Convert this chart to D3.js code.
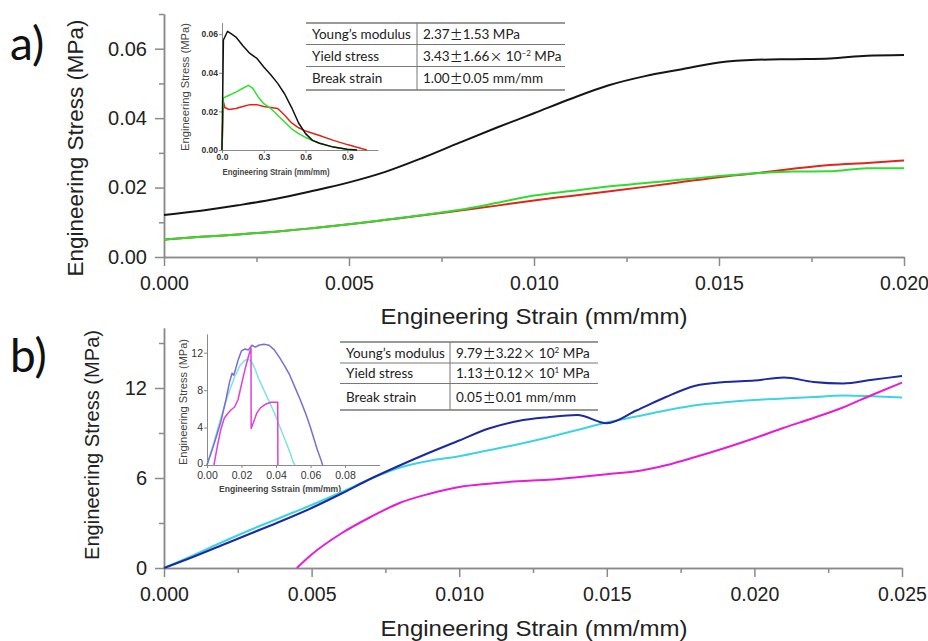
<!DOCTYPE html>
<html>
<head>
<meta charset="utf-8">
<script src="https://cdn.jsdelivr.net/npm/d3@7"></script>
<style>
body { margin: 0; background: #fff; }
.axis path, .axis line { stroke: #8a8a8a; stroke-width: 1.5; }
.axis text { fill: #222; font-family: "Liberation Sans", Arial, sans-serif; }
.inset .domain, .inset .tick line { stroke: #8a8a8a; stroke-width: 1; }
</style>
</head>
<body>
<svg id="chart" width="928" height="641"></svg>
<script>
// panel a, main plot (strain grid shared by the three samples)
const strainA = [0, 0.001, 0.002, 0.003, 0.004, 0.005, 0.006, 0.007, 0.008, 0.009, 0.010,
                 0.011, 0.012, 0.013, 0.014, 0.015, 0.016, 0.017, 0.018, 0.019, 0.020];
const blackA = [0.0121, 0.0133, 0.0149, 0.0167, 0.0190, 0.0215, 0.0246, 0.0286, 0.0330, 0.0373, 0.0414,
                0.0456, 0.0494, 0.0521, 0.0541, 0.0560, 0.0568, 0.0570, 0.0572, 0.0580, 0.0582];
const redA = [0.0050, 0.0058, 0.0065, 0.0073, 0.0083, 0.0094, 0.0107, 0.0120, 0.0134, 0.0148, 0.0163,
              0.0176, 0.0189, 0.0202, 0.0216, 0.0230, 0.0241, 0.0254, 0.0265, 0.0271, 0.0278];
const greenA = [0.0050, 0.0058, 0.0065, 0.0073, 0.0083, 0.0094, 0.0107, 0.0121, 0.0136, 0.0156, 0.0177,
                0.0190, 0.0203, 0.0213, 0.0223, 0.0233, 0.0241, 0.0246, 0.0247, 0.0256, 0.0256];

// panel a, inset (full curves to break)
const insBlackX = [0, 0.01, 0.04, 0.07, 0.10, 0.15, 0.20, 0.25, 0.30, 0.35, 0.40, 0.45, 0.50, 0.55, 0.60, 0.65, 0.70, 0.80, 0.90, 0.97];
const insBlackY = [0, 0.057, 0.0615, 0.060, 0.0585, 0.054, 0.050, 0.0475, 0.043, 0.039, 0.0345, 0.029, 0.022, 0.014, 0.0085, 0.005, 0.0035, 0.0015, 0.0004, 0];
const insGreenX = [0, 0.01, 0.04, 0.10, 0.15, 0.19, 0.22, 0.26, 0.30, 0.35, 0.40, 0.45, 0.50, 0.55, 0.60, 0.70, 0.80, 0.90, 0.93];
const insGreenY = [0, 0.027, 0.028, 0.030, 0.032, 0.0335, 0.032, 0.0275, 0.024, 0.0215, 0.018, 0.0145, 0.011, 0.0085, 0.0065, 0.0035, 0.0015, 0.0003, 0];
const insRedX = [0, 0.01, 0.02, 0.05, 0.10, 0.15, 0.20, 0.25, 0.30, 0.35, 0.40, 0.45, 0.50, 0.55, 0.60, 0.70, 0.80, 0.90, 1.00, 1.04];
const insRedY = [0, 0.025, 0.022, 0.021, 0.0215, 0.0225, 0.0235, 0.0235, 0.0225, 0.022, 0.0215, 0.018, 0.014, 0.0115, 0.0098, 0.0075, 0.005, 0.0028, 0.0008, 0];

// panel b, main plot
const strainB = [0, 0.001, 0.002, 0.003, 0.004, 0.005, 0.006, 0.007, 0.008, 0.009, 0.010, 0.011, 0.012,
                 0.013, 0.014, 0.015, 0.016, 0.017, 0.018, 0.019, 0.020, 0.021, 0.022, 0.023, 0.024, 0.025];
const blueB = [0, 0.75, 1.55, 2.35, 3.15, 4.0, 4.95, 5.95, 6.85, 7.7, 8.5, 9.3, 9.8,
               10.05, 10.2, 9.65, 10.5, 11.4, 12.15, 12.4, 12.5, 12.7, 12.4, 12.3, 12.55, 12.8];
const cyanB = [0, 0.85, 1.75, 2.6, 3.4, 4.2, 5.05, 5.95, 6.7, 7.15, 7.45, 7.85, 8.25,
               8.7, 9.2, 9.7, 10.1, 10.5, 10.85, 11.05, 11.2, 11.3, 11.4, 11.5, 11.45, 11.37];
const strainMagB = [0.0045, 0.005, 0.006, 0.007, 0.008, 0.009, 0.010, 0.011, 0.012, 0.013, 0.014, 0.015,
                    0.016, 0.017, 0.018, 0.019, 0.020, 0.021, 0.022, 0.023, 0.024, 0.025];
const magentaB = [0, 0.9, 2.3, 3.4, 4.35, 4.95, 5.4, 5.62, 5.78, 5.88, 6.05, 6.25,
                  6.45, 6.85, 7.4, 8.0, 8.65, 9.35, 10.0, 10.7, 11.55, 12.36];

// panel b, inset
const insBlueX = [0, 0.004, 0.008, 0.011, 0.013, 0.0145, 0.0155, 0.0165, 0.018, 0.020, 0.022, 0.024, 0.026, 0.028, 0.030,
                  0.033, 0.036, 0.039, 0.042, 0.045, 0.048, 0.051, 0.054, 0.057, 0.060, 0.062, 0.064, 0.066, 0.067];
const insBlueY = [0, 2.2, 4.6, 7.0, 8.8, 9.8, 9.6, 10.2, 11.2, 12.2, 12.4, 12.3, 12.8, 12.6, 12.8,
                  12.9, 12.8, 12.3, 11.5, 10.6, 9.6, 8.3, 7.0, 5.6, 4.0, 2.8, 1.6, 0.6, 0];
const insCyanX = [0, 0.004, 0.008, 0.012, 0.016, 0.019, 0.022, 0.024, 0.026, 0.028, 0.030, 0.033, 0.036, 0.039, 0.042, 0.045, 0.048, 0.050, 0.051];
const insCyanY = [0, 2.4, 5.0, 7.4, 9.4, 10.6, 11.2, 11.3, 11.0, 10.2, 9.2, 8.0, 6.8, 5.6, 4.2, 2.8, 1.4, 0.3, 0];
const insMagX = [0.004, 0.006, 0.008, 0.010, 0.012, 0.014, 0.016, 0.018, 0.020, 0.022, 0.024, 0.0255, 0.0256,
                 0.026, 0.027, 0.029, 0.031, 0.034, 0.037, 0.041, 0.0411];
const insMagY = [0, 2.0, 3.8, 5.0, 5.5, 5.9, 6.2, 7.0, 8.6, 10.2, 11.6, 12.5, 3.9,
                 4.1, 4.6, 5.6, 6.1, 6.5, 6.7, 6.7, 0];

// tables
const tableRows = ["Young’s modulus", "Yield stress", "Break strain"];
const meanA = ["2.37", "3.43", "1.00"], sdA = ["1.53", "1.66", "0.05"], expA = [null, "-2", null], unitA = ["MPa", "MPa", "mm/mm"];
const meanB = ["9.79", "1.13", "0.05"], sdB = ["3.22", "0.12", "0.01"], expB = ["2", "1", null], unitB = [" MPa", "MPa", "mm/mm"];

const svg = d3.select("#chart");

// ---------- tables ----------
function drawTable(left, right, divider, lines, meanArr, sdArr, expArr, unitArr) {
  const t = svg.append("g");
  lines.forEach((y, i) => {
    t.append("line").attr("x1", left).attr("x2", right).attr("y1", y).attr("y2", y)
      .attr("stroke", "#777").attr("stroke-width", (i == 0 || i == lines.length - 1) ? 1.6 : 1);
  });
  t.append("line").attr("x1", divider).attr("x2", divider).attr("y1", lines[0]).attr("y2", lines[3])
    .attr("stroke", "#777").attr("stroke-width", 1);
  tableRows.forEach((label, i) => {
    const yc = (lines[i] + lines[i + 1]) / 2 + 5;
    t.append("text").attr("x", left + 6).attr("y", yc).text(label)
      .attr("font-family", "Lato, sans-serif").attr("font-size", 13.5).attr("fill", "#222");
    const v = t.append("text").attr("x", divider + 6).attr("y", yc)
      .attr("font-family", "Lato, sans-serif").attr("font-size", 13.5).attr("fill", "#222");
    v.append("tspan").text(meanArr[i]);
    v.append("tspan").attr("font-family", "Noto Sans CJK SC").attr("font-size", 13).text("±");
    v.append("tspan").text(sdArr[i]);
    if (expArr[i]) {
      v.append("tspan").attr("font-family", "Noto Sans CJK SC").attr("font-size", 13).text("×");
      v.append("tspan").text(" 10");
      v.append("tspan").attr("dy", -5).attr("font-size", 8).text(expArr[i].replace("-", "−"));
      v.append("tspan").attr("dy", 5).text(" " + unitArr[i]);
    } else {
      v.append("tspan").text(" " + unitArr[i]);
    }
  });
}
drawTable(306, 565, 417, [23, 44.5, 66.5, 90], meanA, sdA, expA, unitA);
drawTable(340, 598, 450, [342, 363, 383.5, 410], meanB, sdB, expB, unitB);

// ---------- insets ----------
function drawInset(x, y, xTicks, yTicks, xFmt, yFmt, tickFont, bold, xLabel, yLabel, lab) {
  const g = svg.append("g").attr("class", "inset");
  g.append("g").attr("transform", "translate(0," + y.range()[0] + ")")
    .call(d3.axisBottom(x).tickValues(xTicks).tickFormat(d3.format(xFmt)).tickSize(3).tickPadding(lab.pad).tickSizeOuter(0));
  g.append("g").attr("transform", "translate(" + x.range()[0] + ",0)")
    .call(d3.axisLeft(y).tickValues(yTicks).tickFormat(d3.format(yFmt)).tickSize(3).tickPadding(1).tickSizeOuter(0));
  g.selectAll("text").attr("font-family", "Liberation Sans, Arial, sans-serif")
    .attr("font-size", tickFont).attr("font-weight", bold ? "bold" : "normal").attr("fill", "#333");
  g.append("text").attr("x", lab.xx).attr("y", lab.xy).attr("text-anchor", "middle")
    .attr("font-family", "Liberation Sans, Arial, sans-serif").attr("font-size", lab.xs).attr("font-weight", "bold")
    .attr("fill", "#444").attr("textLength", lab.xl).attr("lengthAdjust", "spacingAndGlyphs").text(xLabel);
  g.append("text").attr("transform", "translate(" + lab.yx + "," + lab.yy + ") rotate(-90)")
    .attr("text-anchor", "middle")
    .attr("font-family", "Liberation Sans, Arial, sans-serif").attr("font-size", lab.ys)
    .attr("fill", "#444").attr("textLength", lab.yl).attr("lengthAdjust", "spacingAndGlyphs").text(yLabel);
  return g;
}

const xIA = d3.scaleLinear().domain([0, 1.12]).range([222, 378]);
const yIA = d3.scaleLinear().domain([0, 0.066]).range([150, 22.6]);
const insetA = drawInset(xIA, yIA, [0, 0.3, 0.6, 0.9], [0, 0.02, 0.04, 0.06], ".1f", ".2f", 8.5, true,
  "Engineering Strain (mm/mm)", "Engineering Stress (MPa)",
  {xx: 276, xy: 175, xs: 9, xl: 107, yx: 189, yy: 87, ys: 10.5, yl: 128, pad: 1});

const xIB = d3.scaleLinear().domain([0, 0.1]).range([207, 379.5]);
const yIB = d3.scaleLinear().domain([0, 14]).range([465, 334]);
const insetB = drawInset(xIB, yIB, [0, 0.02, 0.04, 0.06, 0.08], [0, 4, 8, 12], ".2f", "d", 10.5, false,
  "Engineering Sstrain (mm/mm)", "Engineering Stress (MPa)",
  {xx: 280, xy: 492, xs: 9.5, xl: 122, yx: 187, yy: 402, ys: 10, yl: 126, pad: 4});
// lift the "0" of the stress axis a little so it clears "0.00" below it
insetB.selectAll(".tick text").filter(d => d === 0 && this !== null).each(function(d) {
  if (d3.select(this).text() === "0") d3.select(this).attr("dy", "0.1em");
});

function insetLine(g, x, y, xs, ys, color) {
  g.append("path").datum(d3.zip(xs, ys)).attr("fill", "none").attr("stroke", color).attr("stroke-width", 1.5)
    .attr("stroke-linejoin", "round")
    .attr("d", d3.line().x(d => x(d[0])).y(d => y(d[1])));
}
insetLine(insetA, xIA, yIA, insRedX, insRedY, "#e0241c");
insetLine(insetA, xIA, yIA, insGreenX, insGreenY, "#2ee02e");
insetLine(insetA, xIA, yIA, insBlackX, insBlackY, "#111");
insetLine(insetB, xIB, yIB, insCyanX, insCyanY, "#7fe3e3");
insetLine(insetB, xIB, yIB, insBlueX, insBlueY, "#7a6ed6");
insetLine(insetB, xIB, yIB, insMagX, insMagY, "#e040d8");

// ---------- main axes ----------
function drawMain(x, y, xMajor, xMinor, yMajor, yMinor, xFmt, yFmt) {
  const g = svg.append("g");
  const y0 = y.range()[0], x0 = x.range()[0];
  g.append("g").attr("class", "axis").attr("transform", "translate(0," + y0 + ")")
    .call(d3.axisBottom(x).tickValues(xMinor).tickFormat("").tickSize(5).tickSizeOuter(0));
  g.append("g").attr("class", "axis").attr("transform", "translate(" + x0 + ",0)")
    .call(d3.axisLeft(y).tickValues(yMinor).tickFormat("").tickSize(5).tickSizeOuter(0));
  g.append("g").attr("class", "axis").attr("transform", "translate(0," + y0 + ")")
    .call(d3.axisBottom(x).tickValues(xMajor).tickFormat(d3.format(xFmt)).tickSize(9).tickPadding(10).tickSizeOuter(0))
    .selectAll("text").attr("font-size", 19.5);
  g.append("g").attr("class", "axis").attr("transform", "translate(" + x0 + ",0)")
    .call(d3.axisLeft(y).tickValues(yMajor).tickFormat(d3.format(yFmt)).tickSize(9).tickPadding(8).tickSizeOuter(0))
    .selectAll("text").attr("font-size", 20);
  return g;
}

const xA = d3.scaleLinear().domain([0, 0.02]).range([164, 904]);
const yA = d3.scaleLinear().domain([0, 0.07]).range([257, 14]);
const gA = drawMain(xA, yA, [0, 0.005, 0.01, 0.015, 0.02], [0.0025, 0.0075, 0.0125, 0.0175],
  [0, 0.02, 0.04, 0.06], [0.01, 0.03, 0.05, 0.07], ".3f", ".2f");

const xB = d3.scaleLinear().domain([0, 0.025]).range([164, 902]);
const yB = d3.scaleLinear().domain([0, 16]).range([568, 328]);
const gB = drawMain(xB, yB, [0, 0.005, 0.01, 0.015, 0.02, 0.025], [0.0025, 0.0075, 0.0125, 0.0175, 0.0225],
  [0, 6, 12], [3, 9, 15], ".3f", "d");

// titles
const titleFont = "Liberation Sans, Arial, sans-serif";
function title(x, y, rot, txt, size, len) {
  svg.append("text").attr("transform", "translate(" + x + "," + y + ")" + (rot ? " rotate(-90)" : ""))
    .attr("text-anchor", "middle").attr("font-family", titleFont).attr("font-size", size).attr("fill", "#222")
    .attr("textLength", len).attr("lengthAdjust", "spacingAndGlyphs").text(txt);
}
title(534, 324, false, "Engineering Strain (mm/mm)", 22, 307);
title(83, 148, true, "Engineering Stress (MPa)", 22, 257);
title(534, 636, false, "Engineering Strain (mm/mm)", 22, 307);
title(99, 445, true, "Engineering Stress (MPa)", 20, 230);

svg.append("text").attr("x", 10).attr("y", 60).attr("font-family", "Lato, sans-serif").attr("font-size", 46)
  .attr("fill", "#111").text("a)");
svg.append("text").attr("x", 10).attr("y", 372).attr("font-family", "Lato, sans-serif").attr("font-size", 46)
  .attr("fill", "#111").text("b)");

// ---------- main curves ----------
function mainLine(g, x, y, xs, ys, color) {
  g.append("path").datum(d3.zip(xs, ys)).attr("fill", "none").attr("stroke", color).attr("stroke-width", 2)
    .attr("stroke-linejoin", "round")
    .attr("d", d3.line().x(d => x(d[0])).y(d => y(d[1])).curve(d3.curveMonotoneX));
}
mainLine(gA, xA, yA, strainA, blackA, "#151515");
mainLine(gA, xA, yA, strainA, redA, "#e0261c");
mainLine(gA, xA, yA, strainA, greenA, "#30dc30");

mainLine(gB, xB, yB, strainB, cyanB, "#3dd4e2");
mainLine(gB, xB, yB, strainB, blueB, "#1c2a9e");
mainLine(gB, xB, yB, strainMagB, magentaB, "#e41ed4");
</script>
</body>
</html>
